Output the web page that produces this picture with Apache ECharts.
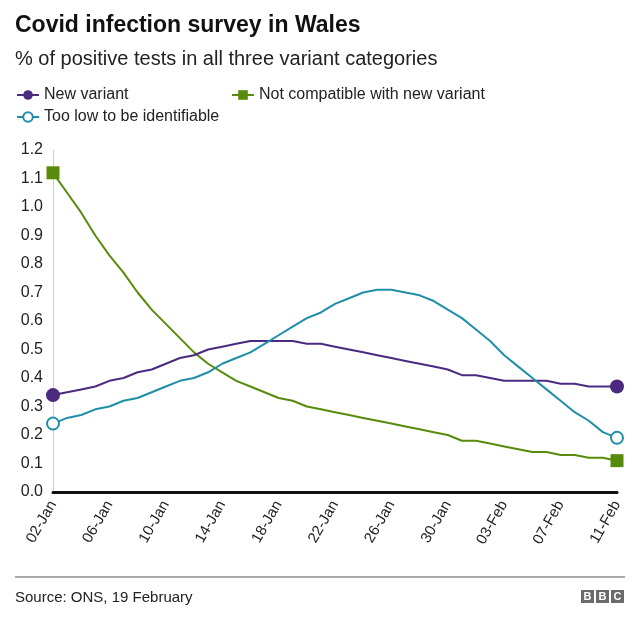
<!DOCTYPE html>
<html>
<head>
<meta charset="utf-8">
<script src="https://cdn.jsdelivr.net/npm/echarts@6/dist/echarts.min.js"></script>
<style>
html,body{margin:0;padding:0;background:#fff;}
#chart{width:640px;height:625px;}
</style>
</head>
<body>
<div id="chart"></div>
<script>
const dates = ['02-Jan','03-Jan','04-Jan','05-Jan','06-Jan','07-Jan','08-Jan','09-Jan','10-Jan','11-Jan',
  '12-Jan','13-Jan','14-Jan','15-Jan','16-Jan','17-Jan','18-Jan','19-Jan','20-Jan','21-Jan',
  '22-Jan','23-Jan','24-Jan','25-Jan','26-Jan','27-Jan','28-Jan','29-Jan','30-Jan','31-Jan',
  '01-Feb','02-Feb','03-Feb','04-Feb','05-Feb','06-Feb','07-Feb','08-Feb','09-Feb','10-Feb','11-Feb'];

const newVariant = [0.34,0.35,0.36,0.37,0.39,0.40,0.42,0.43,0.45,0.47,
  0.48,0.50,0.51,0.52,0.53,0.53,0.53,0.53,0.52,0.52,
  0.51,0.50,0.49,0.48,0.47,0.46,0.45,0.44,0.43,0.41,
  0.41,0.40,0.39,0.39,0.39,0.39,0.38,0.38,0.37,0.37,0.37];

const notCompatible = [1.12,1.05,0.98,0.90,0.83,0.77,0.70,0.64,0.59,0.54,
  0.49,0.45,0.42,0.39,0.37,0.35,0.33,0.32,0.30,0.29,
  0.28,0.27,0.26,0.25,0.24,0.23,0.22,0.21,0.20,0.18,
  0.18,0.17,0.16,0.15,0.14,0.14,0.13,0.13,0.12,0.12,0.11];

const tooLow = [0.24,0.26,0.27,0.29,0.30,0.32,0.33,0.35,0.37,0.39,
  0.40,0.42,0.45,0.47,0.49,0.52,0.55,0.58,0.61,0.63,
  0.66,0.68,0.70,0.71,0.71,0.70,0.69,0.67,0.64,0.61,
  0.57,0.53,0.48,0.44,0.40,0.36,0.32,0.28,0.25,0.21,0.19];

const seriesNames = ['New variant','Not compatible with new variant','Too low to be identifiable'];
const colors = ['#4b2a80','#588b0b','#1f8fa9'];

const FONT = '"Liberation Sans", Arial, Helvetica, sans-serif';
const last = dates.length - 1;
const endSize = (size) => function (v, p) { return (p.dataIndex === 0 || p.dataIndex === last) ? size : 0; };

const chart = echarts.init(document.getElementById('chart'), null, {renderer: 'canvas'});

const legendBase = {
  itemWidth: 22, itemHeight: 12, itemGap: 20,
  textStyle: {fontFamily: FONT, fontSize: 16, color: '#222'},
  selectedMode: false
};

chart.setOption({
  backgroundColor: '#fff',
  animation: false,
  title: [{
    text: 'Covid infection survey in Wales',
    left: 10, top: 9,
    textStyle: {fontFamily: FONT, fontSize: 23, fontWeight: 'bold', color: '#111'}
  }, {
    text: '% of positive tests in all three variant categories',
    left: 10, top: 44,
    textStyle: {fontFamily: FONT, fontSize: 20, fontWeight: 'normal', color: '#222'}
  }, {
    text: 'Source: ONS, 19 February',
    left: 10, top: 585,
    textStyle: {fontFamily: FONT, fontSize: 15, fontWeight: 'normal', color: '#222'}
  }],
  legend: [
    Object.assign({}, legendBase, {data: [seriesNames[0]], left: 11, top: 82}),
    Object.assign({}, legendBase, {data: [seriesNames[1]], left: 226, top: 82}),
    Object.assign({}, legendBase, {data: [seriesNames[2]], left: 11, top: 104})
  ],
  grid: {left: 53, right: 23, top: 150, bottom: 133, containLabel: false},
  xAxis: {
    type: 'category',
    data: dates,
    boundaryGap: false,
    axisLine: {show: true, lineStyle: {color: '#111', width: 3}},
    axisTick: {show: false},
    splitLine: {show: false},
    axisLabel: {
      interval: 3, rotate: 60, margin: 10,
      fontFamily: FONT, fontSize: 15, color: '#222'
    }
  },
  yAxis: {
    type: 'value',
    min: 0, max: 1.2, interval: 0.1,
    axisLine: {show: true, lineStyle: {color: '#cccccc', width: 1}},
    axisTick: {show: false},
    splitLine: {show: false},
    axisLabel: {
      margin: 10, fontFamily: FONT, fontSize: 16, color: '#222',
      formatter: function (v) { return v.toFixed(1); }
    }
  },
  series: [{
    name: seriesNames[0], type: 'line', data: newVariant,
    color: colors[0],
    lineStyle: {width: 2, color: colors[0]},
    itemStyle: {color: colors[0]},
    symbol: 'circle', symbolSize: endSize(14), showAllSymbol: true,
    z: 3
  }, {
    name: seriesNames[1], type: 'line', data: notCompatible,
    color: colors[1],
    lineStyle: {width: 2, color: colors[1]},
    itemStyle: {color: colors[1]},
    symbol: 'rect', symbolSize: endSize(13), showAllSymbol: true,
    z: 2
  }, {
    name: seriesNames[2], type: 'line', data: tooLow,
    color: colors[2],
    lineStyle: {width: 2, color: colors[2]},
    itemStyle: {color: '#fff', borderColor: colors[2], borderWidth: 2},
    symbol: 'circle', symbolSize: endSize(12), showAllSymbol: true,
    z: 4
  }],
  graphic: [{
    type: 'line', shape: {x1: 15, y1: 577, x2: 625, y2: 577},
    style: {stroke: '#555', lineWidth: 1}
  }, {
    type: 'group', left: 581, top: 590,
    children: ['B','B','C'].map(function (ch, i) {
      return {
        type: 'group', x: i * 15,
        children: [{
          type: 'rect', shape: {x: 0, y: 0, width: 13, height: 13},
          style: {fill: '#6b6b6b'}
        }, {
          type: 'text', x: 6.5, y: 7,
          style: {text: ch, fill: '#fff', font: 'bold 11px ' + FONT, align: 'center', verticalAlign: 'middle'}
        }]
      };
    })
  }]
});
</script>
</body>
</html>
